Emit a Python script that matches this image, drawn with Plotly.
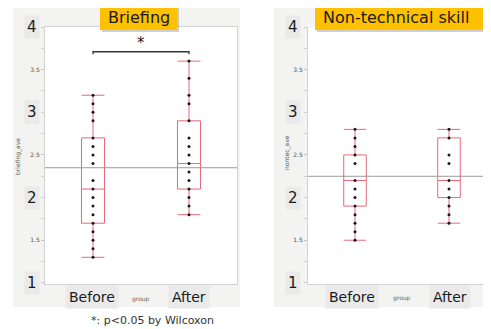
import plotly.graph_objects as go

# ---------------- data ----------------
groups = ["Before", "After"]

brief_before = [3.2, 3.1, 3.0, 2.9, 2.7, 2.6, 2.5, 2.4, 2.2, 2.1, 2.0, 1.9, 1.8, 1.7, 1.6, 1.5, 1.4, 1.3]
brief_after = [3.6, 3.4, 3.2, 3.1, 2.9, 2.7, 2.6, 2.5, 2.4, 2.3, 2.2, 2.1, 2.0, 1.9, 1.8]
brief_q1 = [1.7, 2.1]
brief_median = [2.1, 2.4]
brief_q3 = [2.7, 2.9]
brief_low = [1.3, 1.8]
brief_high = [3.2, 3.6]
brief_mean = 2.35

ntec_before = [2.8, 2.7, 2.6, 2.5, 2.4, 2.2, 2.1, 2.0, 1.9, 1.8, 1.7, 1.6, 1.5]
ntec_after = [2.8, 2.7, 2.5, 2.4, 2.2, 2.1, 2.0, 1.9, 1.8, 1.7]
ntec_q1 = [1.9, 2.0]
ntec_median = [2.2, 2.2]
ntec_q3 = [2.5, 2.7]
ntec_low = [1.5, 1.7]
ntec_high = [2.8, 2.8]
ntec_mean = 2.25

sig_y = 3.71
sig_tick = 3.68
sig_star_y = 3.81

titles = ["Briefing", "Non-technical skill"]
ytitles = ["briefing_ave", "nontec_ave"]
footnote = "*: p<0.05 by Wilcoxon"
big_ticks = [1, 2, 3, 4]
small_ticks = [1.5, 2.5, 3.5]
minor_ticks = [1, 1.25, 1.5, 1.75, 2, 2.25, 2.5, 2.75, 3, 3.25, 3.5, 3.75, 4]

# ---------------- style ----------------
OFF = 8                     # default page body margin
W, H = 491 - OFF, 329 - OFF
BOX_COLOR = "#E8687C"
PANEL_BG = "#F3F3F1"
LABEL_BG = "#EAEAEA"
GOLD = "#FFC000"
FONT = "DejaVu Sans"


def px_x(v):
    return (v - OFF) / W


def px_y(v):
    return 1 - (v - OFF) / H


fig = go.Figure()

panels = [
    dict(xa="x", ya="y", before=brief_before, after=brief_after, q1=brief_q1, med=brief_median,
         q3=brief_q3, lo=brief_low, hi=brief_high),
    dict(xa="x2", ya="y2", before=ntec_before, after=ntec_after, q1=ntec_q1, med=ntec_median,
         q3=ntec_q3, lo=ntec_low, hi=ntec_high),
]

for p in panels:
    fig.add_trace(go.Box(
        x=groups, q1=p["q1"], median=p["med"], q3=p["q3"],
        lowerfence=p["lo"], upperfence=p["hi"],
        width=0.24, whiskerwidth=1,
        line=dict(color=BOX_COLOR, width=1), fillcolor="rgba(0,0,0,0)",
        xaxis=p["xa"], yaxis=p["ya"], showlegend=False, boxpoints=False,
    ))
    for g, vals in zip(groups, [p["before"], p["after"]]):
        fig.add_trace(go.Scatter(
            x=[g] * len(vals), y=vals, mode="markers",
            marker=dict(color="#1a1a1a", size=3),
            xaxis=p["xa"], yaxis=p["ya"], showlegend=False,
        ))

# significance bracket
fig.add_trace(go.Scatter(
    x=[groups[0], groups[0], groups[1], groups[1]],
    y=[sig_tick, sig_y, sig_y, sig_tick], mode="lines",
    line=dict(color="#333333", width=1.3), xaxis="x", yaxis="y", showlegend=False,
))

# panel geometry (page pixels)
L1, R1 = 45, 237
L2 = 308
TOP, BOT = 27, 284

axis_common = dict(
    showgrid=False, zeroline=False, showline=True, linecolor="#D2D2D2", linewidth=1, mirror=True,
)
yaxis_common = dict(
    axis_common, range=[0.987, 4.0], domain=[px_y(BOT), px_y(TOP)],
    tickmode="array", tickvals=small_ticks, ticktext=[str(v) for v in small_ticks],
    tickfont=dict(size=6, color="#555555", family=FONT),
    ticks="outside", ticklen=3, tickcolor="#C8C8C8",
    minor=dict(tickmode="array", tickvals=minor_ticks, ticks="outside", ticklen=3, tickcolor="#D0D0D0"),
)

fig.update_layout(
    width=W, height=H, margin=dict(l=0, r=0, t=0, b=0),
    paper_bgcolor="white", plot_bgcolor="white",
    xaxis=dict(axis_common, domain=[px_x(L1), px_x(R1)], range=[-0.5, 1.5], type="category",
               categoryorder="array", categoryarray=groups, showticklabels=False,
               tickvals=[], ticks=""),
    xaxis2=dict(axis_common, domain=[px_x(L2), 1.0], range=[-0.5, 1.447], type="category",
                categoryorder="array", categoryarray=groups, showticklabels=False,
                tickvals=[], ticks="", anchor="y2"),
    yaxis=dict(yaxis_common, anchor="x"),
    yaxis2=dict(yaxis_common, anchor="x2"),
)
fig.update_layout(xaxis2_mirror=False)

shapes = []
# panel backgrounds
shapes.append(dict(type="rect", xref="paper", yref="paper", x0=px_x(13), x1=px_x(240),
                   y0=px_y(307), y1=px_y(7), fillcolor=PANEL_BG, line=dict(width=0), layer="below"))
shapes.append(dict(type="rect", xref="paper", yref="paper", x0=px_x(274), x1=1.0,
                   y0=px_y(307), y1=px_y(7), fillcolor=PANEL_BG, line=dict(width=0), layer="below"))
# white plot areas
shapes.append(dict(type="rect", xref="paper", yref="paper", x0=px_x(L1), x1=px_x(R1),
                   y0=px_y(BOT), y1=px_y(TOP), fillcolor="white", line=dict(width=0), layer="below"))
shapes.append(dict(type="rect", xref="paper", yref="paper", x0=px_x(L2), x1=1.0,
                   y0=px_y(BOT), y1=px_y(TOP), fillcolor="white", line=dict(width=0), layer="below"))
# mean lines
shapes.append(dict(type="line", xref="x domain", yref="y", x0=0, x1=1, y0=brief_mean, y1=brief_mean,
                   line=dict(color="#9A9A9A", width=1)))
shapes.append(dict(type="line", xref="x2 domain", yref="y2", x0=0, x1=1, y0=ntec_mean, y1=ntec_mean,
                   line=dict(color="#9A9A9A", width=1)))
# title boxes with shadow
for (x0, x1) in [(100, 177), (315, 495)]:
    shapes.append(dict(type="rect", xref="paper", yref="paper", x0=px_x(x0 + 2), x1=px_x(x1 + 2),
                       y0=px_y(32), y1=px_y(0), fillcolor="rgba(120,120,120,0.35)", line=dict(width=0)))
    shapes.append(dict(type="rect", xref="paper", yref="paper", x0=px_x(x0), x1=px_x(x1),
                       y0=px_y(30), y1=px_y(0), fillcolor=GOLD, line=dict(width=0)))
fig.update_layout(shapes=shapes)

ann = []
# titles
ann.append(dict(x=px_x(138.5), y=px_y(17.5), text=titles[0], font=dict(size=16, color="#1a1a1a", family=FONT)))
ann.append(dict(x=px_x(321), y=px_y(17.5), text=titles[1], xanchor="left",
                font=dict(size=16, color="#1a1a1a", family=FONT)))
# big y tick labels
for yv in big_ticks:
    for ya, xpos in [("y", 32), ("y2", 293)]:
        ann.append(dict(x=px_x(xpos), xref="paper", y=yv, yref=ya, text=str(yv),
                        font=dict(size=15, color="#1a1a1a", family=FONT),
                        bgcolor=LABEL_BG, borderpad=2))
# y-axis titles
ann.append(dict(x=px_x(18), y=px_y(157), text=ytitles[0], textangle=-90,
                font=dict(size=6, color="#555555", family=FONT)))
ann.append(dict(x=px_x(287), y=px_y(153), text=ytitles[1], textangle=-90,
                font=dict(size=6, color="#555555", family=FONT)))
# x category labels
for xs in [[92, 189], [352, 450]]:
    for g, xp in zip(groups, xs):
        ann.append(dict(x=px_x(xp), y=px_y(297), text=g,
                        font=dict(size=14, color="#1a1a1a", family=FONT),
                        bgcolor=LABEL_BG, borderpad=3))
ann.append(dict(x=px_x(141), y=px_y(299), text="group", font=dict(size=6, color="#666666", family=FONT)))
ann.append(dict(x=px_x(402), y=px_y(298), text="group", font=dict(size=6, color="#666666", family=FONT)))
# significance star
ann.append(dict(x=0.5, xref="x", y=sig_star_y, yref="y", text="*",
                font=dict(size=15, color="#1a1a1a", family=FONT)))
# footnote
ann.append(dict(x=px_x(152), y=px_y(320), text=footnote, font=dict(size=11, color="#333333", family=FONT)))

for a in ann:
    a.setdefault("xref", "paper")
    a.setdefault("yref", "paper")
    a.setdefault("xanchor", "center")
    a.setdefault("yanchor", "middle")
    a["showarrow"] = False
fig.update_layout(annotations=ann)

fig.write_html("out.html")
